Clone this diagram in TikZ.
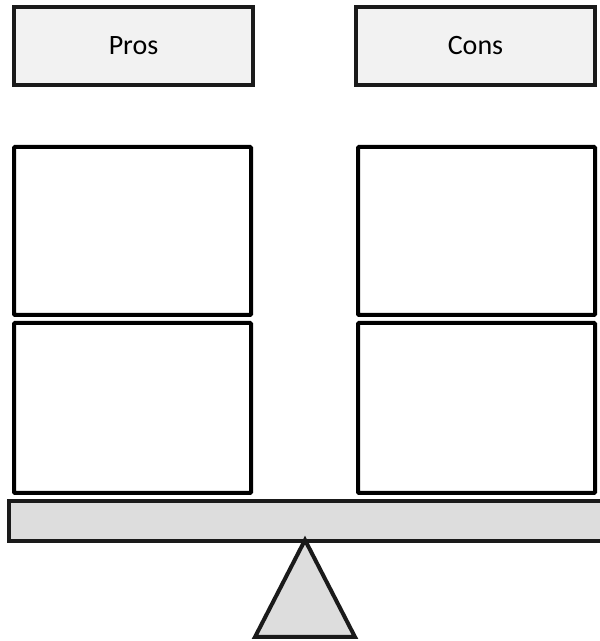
\documentclass[tikz,border=0pt]{standalone}
\usepackage{fontspec}
\setmainfont{Carlito}
\usetikzlibrary{positioning}

\definecolor{headfill}{HTML}{F2F2F2}
\definecolor{beamfill}{HTML}{DDDDDD}
\definecolor{edgegray}{HTML}{1A1A1A}

\begin{document}
\begin{tikzpicture}[
			x=1pt, y=1pt,
			% Define styles for nodes
			header/.style={draw=edgegray, fill=headfill, line width=4pt, minimum width=239pt, minimum height=78pt, font=\fontsize{28}{34}\selectfont},
			weight/.style={draw=black, fill=white, line width=4pt, rounded corners=1pt, minimum width=237pt, minimum height=168pt},
			beam/.style={draw=edgegray, fill=beamfill, line width=4pt, minimum width=600pt, minimum height=40pt},
			node distance=4pt
		]

		\useasboundingbox (0,0) rectangle (600,641);
		\clip (0,0) rectangle (600,641);

		% Headers
		\node[header] (pros) at (133.5,595) {Pros};
		\node[header, right=99pt of pros] (cons) {Cons};

		% Left pan
		\node[weight, below=58pt of pros.south west, anchor=north west] (prosA) {};
		\node[weight, below=of prosA, minimum height=170pt] (prosB) {};

		% Right pan
		\node[weight, right=103pt of prosA] (consA) {};
		\node[weight, below=of consA, minimum height=170pt] (consB) {};

		% Seesaw
		\node[beam, anchor=north west] (board) at (7,142) {};
		\coordinate (tip) at (305,101);
		\draw[draw=edgegray, fill=beamfill, line width=4pt, line join=miter]
			(tip) -- (355,4) -- (255,4) -- cycle;
	\end{tikzpicture}
\end{document}
